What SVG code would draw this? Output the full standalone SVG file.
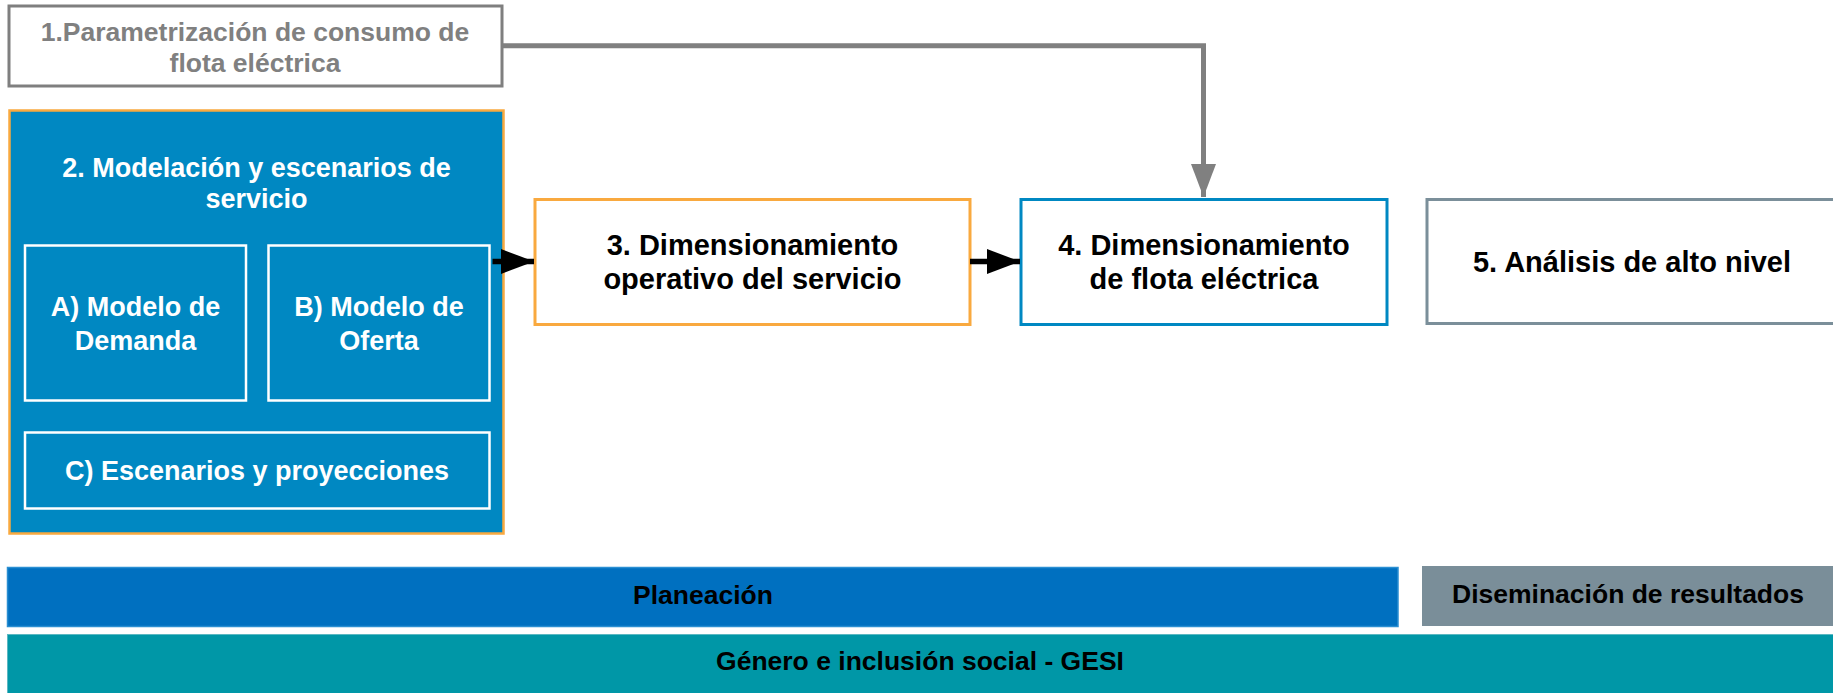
<svg xmlns="http://www.w3.org/2000/svg" width="1833" height="693" viewBox="0 0 1833 693">
<defs>
<style>
text{font-family:"Liberation Sans",Arial,sans-serif;font-weight:bold;text-anchor:middle}
.t26{font-size:26.5px}
.t27{font-size:27px}
.t29{font-size:29px}
.w{fill:#ffffff}
.k{fill:#000000}
.g{fill:#808080}
.sub{fill:none;stroke:#ffffff;stroke-width:2.5}
</style>
<marker id="ahK" markerUnits="userSpaceOnUse" markerWidth="34" markerHeight="26" refX="33" refY="12.5" orient="auto">
<path d="M0,0 L33,12.5 L0,25 Z" fill="#000000"/>
</marker>
<marker id="ahG" markerUnits="userSpaceOnUse" markerWidth="34" markerHeight="26" refX="33" refY="12.5" orient="auto">
<path d="M0,0 L33,12.5 L0,25 Z" fill="#808080"/>
</marker>
</defs>
<rect x="0" y="0" width="1833" height="693" fill="#ffffff"/>

<g id="node1">
<rect x="9" y="6" width="493" height="80" fill="#ffffff" stroke="#7f7f7f" stroke-width="3"/>
<text class="t26 g" x="255" y="41">1.Parametrización de consumo de</text>
<text class="t26 g" x="255" y="72">flota eléctrica</text>
</g>

<g id="node2">
<rect x="9.5" y="110.5" width="494" height="423" fill="#0088c2" stroke="#f9a93f" stroke-width="2.5"/>
<text class="t27 w" x="256.5" y="177">2. Modelación y escenarios de</text>
<text class="t27 w" x="256.5" y="208">servicio</text>
<g id="node2a">
<rect class="sub" x="25" y="245.5" width="221" height="155"/>
<text class="t27 w" x="135.5" y="316">A) Modelo de</text>
<text class="t27 w" x="135.5" y="350">Demanda</text>
</g>
<g id="node2b">
<rect class="sub" x="268.5" y="245.5" width="221" height="155"/>
<text class="t27 w" x="379" y="316">B) Modelo de</text>
<text class="t27 w" x="379" y="350">Oferta</text>
</g>
<g id="node2c">
<rect class="sub" x="25" y="432.5" width="464.5" height="76"/>
<text class="t27 w" x="257" y="480">C) Escenarios y proyecciones</text>
</g>
</g>

<g id="node3">
<rect x="535" y="199.5" width="435" height="125" fill="#ffffff" stroke="#f9a93f" stroke-width="3"/>
<text class="t29 k" x="752.5" y="255">3. Dimensionamiento</text>
<text class="t29 k" x="752.5" y="289">operativo del servicio</text>
</g>

<g id="node4">
<rect x="1021" y="199.5" width="366" height="125" fill="#ffffff" stroke="#0088c2" stroke-width="3"/>
<text class="t29 k" x="1204" y="255">4. Dimensionamiento</text>
<text class="t29 k" x="1204" y="289">de flota eléctrica</text>
</g>

<g id="node5">
<rect x="1427" y="199.5" width="410" height="124" fill="#ffffff" stroke="#7b8f9a" stroke-width="3"/>
<text class="t29 k" x="1632" y="272">5. Análisis de alto nivel</text>
</g>

<g id="connectors">
<path d="M503,45.8 H1203.5 V197" fill="none" stroke="#808080" stroke-width="5" marker-end="url(#ahG)"/>
<path d="M492.5,261.5 H534" fill="none" stroke="#000000" stroke-width="5.5" marker-end="url(#ahK)"/>
<path d="M970,261.5 H1020" fill="none" stroke="#000000" stroke-width="5.5" marker-end="url(#ahK)"/>
</g>

<g id="bar-planeacion">
<rect x="7.5" y="567.5" width="1390.5" height="59" fill="#0070c0" stroke="#2a8fd2" stroke-width="1.5"/>
<text class="t26 k" x="703" y="604">Planeación</text>
</g>
<g id="bar-diseminacion">
<rect x="1422" y="566" width="412" height="60" fill="#7a8e99"/>
<text class="t26 k" x="1628" y="603">Diseminación de resultados</text>
</g>
<g id="bar-gesi">
<rect x="7.5" y="634.5" width="1827" height="60" fill="#0097a7" stroke="#5bb8c2" stroke-width="1"/>
<text class="t26 k" x="920" y="670">Género e inclusión social - GESI</text>
</g>
</svg>
